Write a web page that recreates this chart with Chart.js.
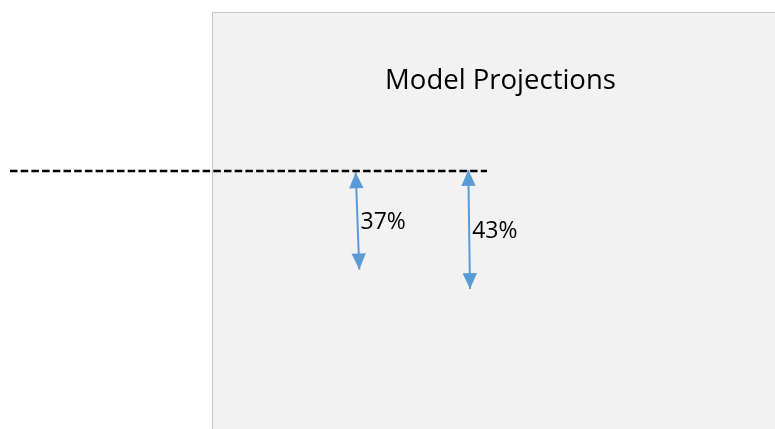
<!DOCTYPE html>
<html>
<head>
<meta charset="utf-8">
<script src="https://cdn.jsdelivr.net/npm/chart.js@4/dist/chart.umd.min.js"></script>
<style>
  html, body { margin: 0; padding: 0; background: #fff; }
  #wrap { width: 775px; height: 429px; }
</style>
</head>
<body>
<div id="wrap"><canvas id="chart"></canvas></div>
<script>
// DATA ================================
const titleText = 'Model Projections'
const dropLabels = ['37%', '43%']
const arrowTop = [-0.5, 0.4]        // level where each arrow starts (baseline = 0)
const arrowBottom = [-37, -44.4]    // level where each arrow ends
const arrowXTop = [355.7, 468.3]
const arrowXBottom = [359.3, 470]
const baseLevel = 0
const baseFrom = 10
const baseTo = 487

const blue = '#5b9bd5'
const ctx = document.getElementById('chart')

// painel cinza + título
const panel = {
  id: 'panel',
  beforeDraw(chart) {
    const c = chart.ctx
    c.save()
    c.fillStyle = '#f2f2f2'
    c.fillRect(212.5, 12.5, 563, 417)
    c.strokeStyle = '#c6c6c6'
    c.lineWidth = 1
    c.beginPath()
    c.moveTo(212.5, 429)
    c.lineTo(212.5, 12.5)
    c.lineTo(775, 12.5)
    c.stroke()
    c.fillStyle = '#000'
    c.font = '27.5px "Open Sans"'
    c.textAlign = 'center'
    c.textBaseline = 'alphabetic'
    c.fillText(titleText, 500.5, 89)
    c.restore()
  }
}

// pontas das setas e rótulos
const arrows = {
  id: 'arrows',
  afterDatasetsDraw(chart) {
    const c = chart.ctx
    const x = chart.scales.x
    const y = chart.scales.y
    c.save()
    for (let i = 0; i < dropLabels.length; i++) {
      const x1 = x.getPixelForValue(arrowXTop[i]), y1 = y.getPixelForValue(arrowTop[i])
      const x2 = x.getPixelForValue(arrowXBottom[i]), y2 = y.getPixelForValue(arrowBottom[i])
      const ang = Math.atan2(y2 - y1, x2 - x1)
      const head = (tx, ty, a) => {
        c.beginPath()
        c.moveTo(tx, ty)
        c.lineTo(tx - 16 * Math.cos(a) + 7.2 * Math.sin(a), ty - 16 * Math.sin(a) - 7.2 * Math.cos(a))
        c.lineTo(tx - 16 * Math.cos(a) - 7.2 * Math.sin(a), ty - 16 * Math.sin(a) + 7.2 * Math.cos(a))
        c.closePath()
        c.fill()
      }
      c.fillStyle = blue
      head(x2, y2, ang)
      head(x1, y1, ang + Math.PI)

      c.fillStyle = '#000'
      c.font = '23px "Open Sans"'
      c.textAlign = 'left'
      c.textBaseline = 'middle'
      c.fillText(dropLabels[i], (x1 + x2) / 2 + 3, (y1 + y2) / 2 + 2)
    }
    c.restore()
  }
}

const datasets = [{
  data: [{ x: baseFrom, y: baseLevel }, { x: baseTo, y: baseLevel }],
  borderColor: '#000',
  borderWidth: 2.5,
  borderDash: [7.5, 3.2],
  pointRadius: 0,
  showLine: true
}]

for (let i = 0; i < dropLabels.length; i++) {
  datasets.push({
    data: [{ x: arrowXTop[i], y: arrowTop[i] }, { x: arrowXBottom[i], y: arrowBottom[i] }],
    borderColor: blue,
    borderWidth: 2,
    pointRadius: 0,
    showLine: true
  })
}

new Chart(ctx, {
  type: 'scatter',
  data: { datasets: datasets },
  options: {
    responsive: true,
    maintainAspectRatio: false,
    animation: false,
    layout: { padding: 0 },
    plugins: {
      legend: { display: false },
      tooltip: { enabled: false }
    },
    scales: {
      x: { type: 'linear', min: 0, max: 775, display: false },
      y: { type: 'linear', min: -97, max: 64.3, display: false }
    }
  },
  plugins: [panel, arrows]
})
</script>
</body>
</html>
